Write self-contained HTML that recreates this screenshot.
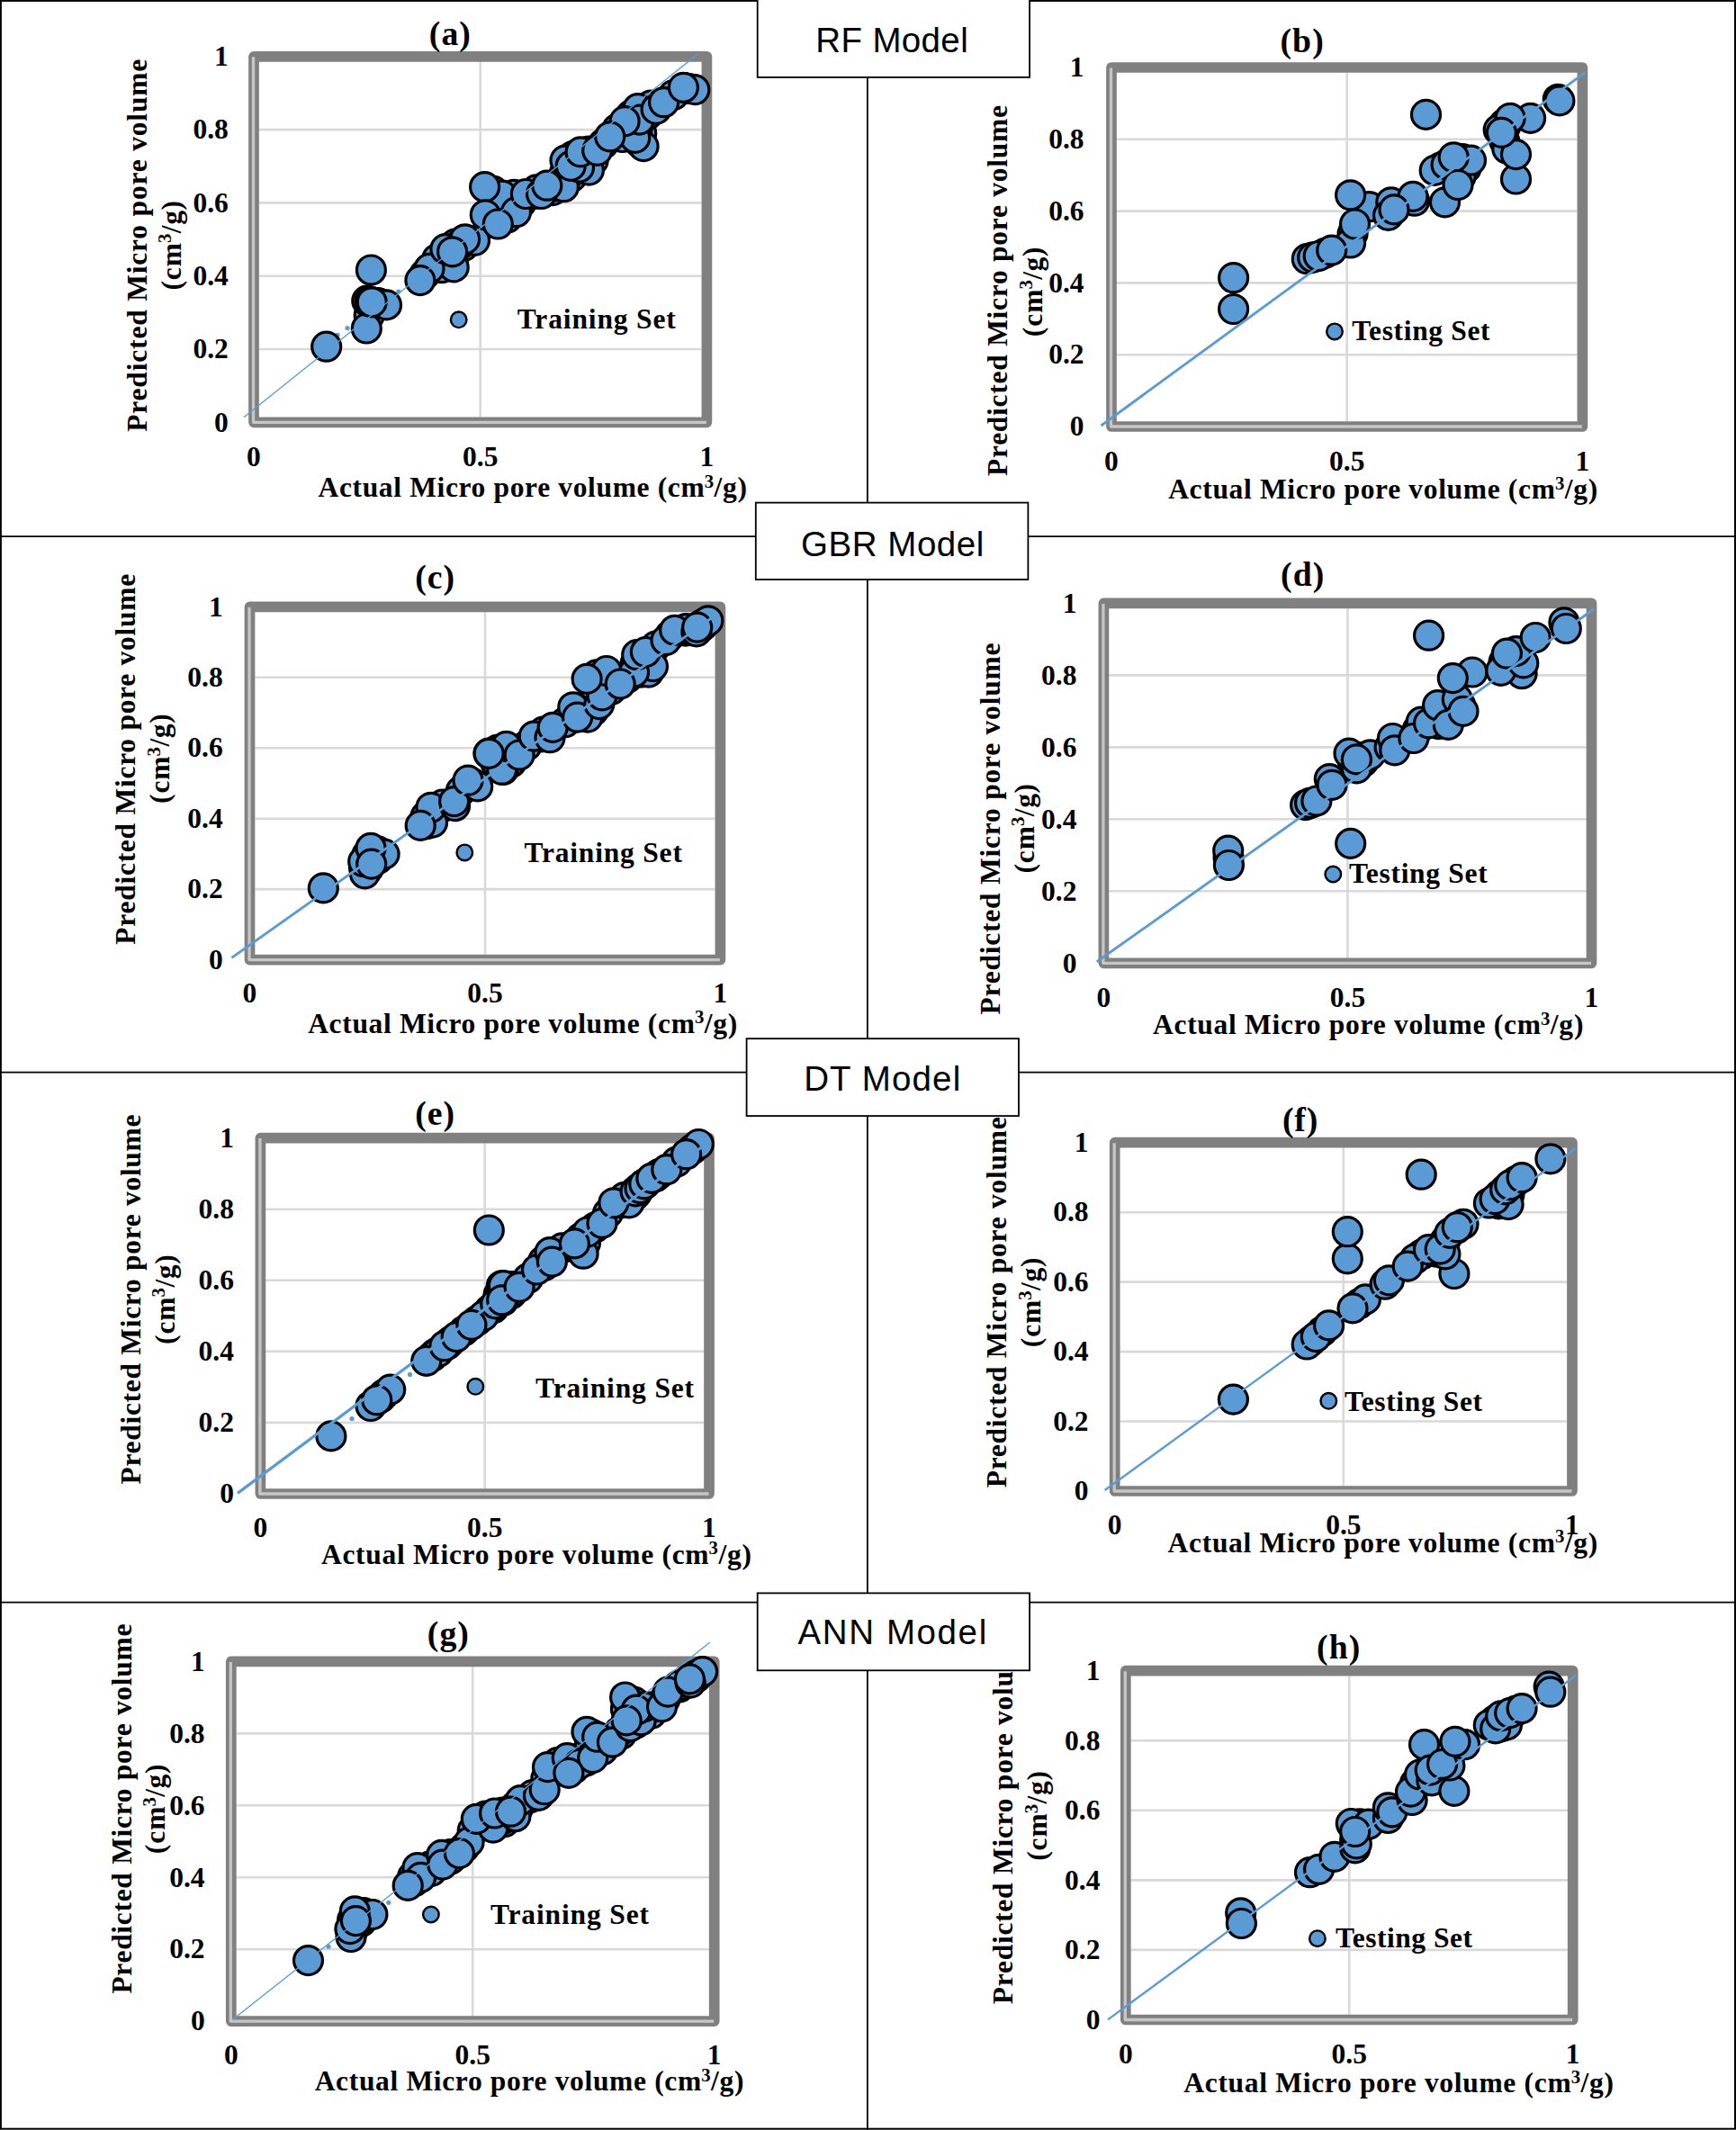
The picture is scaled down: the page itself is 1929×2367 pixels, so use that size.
<!DOCTYPE html>
<html><head><meta charset="utf-8"><title>Model predictions</title>
<style>
html,body{margin:0;padding:0;background:#fff}
svg{display:block}
.b{font-family:"Liberation Serif","DejaVu Serif",serif;font-weight:bold;fill:#000}
.s{font-family:"Liberation Sans","DejaVu Sans",sans-serif;fill:#000}
.g{stroke:#d9d9d9;stroke-width:2.6}
.ax{stroke:#c6c6c6;stroke-width:3.3;fill:none;stroke-linejoin:round}
.f{fill:none;stroke:#808080}
.pt circle{fill:#5b9bd5;stroke:#000;stroke-width:3.2}
.bx{fill:#fff;stroke:#000;stroke-width:1.8}
.ln{stroke:#000;stroke-width:1.8}
</style></head><body>
<svg width="1929" height="2367" viewBox="0 0 1929 2367">
<rect x="0" y="0" width="1929" height="2367" fill="#fff"/>
<line class="ln" x1="963.9" x2="963.9" y1="0" y2="2367"/>
<line class="ln" x1="0" x2="1929" y1="596.1" y2="596.1"/>
<line class="ln" x1="0" x2="1929" y1="1191.7" y2="1191.7"/>
<line class="ln" x1="0" x2="1929" y1="1780.6" y2="1780.6"/>
<g id="p_a">
<line class="g" x1="287.9" x2="779.5" y1="388.0" y2="388.0"/>
<line class="g" x1="287.9" x2="779.5" y1="306.7" y2="306.7"/>
<line class="g" x1="287.9" x2="779.5" y1="225.4" y2="225.4"/>
<line class="g" x1="287.9" x2="779.5" y1="144.1" y2="144.1"/>
<line class="g" x1="533.7" x2="533.7" y1="68.6" y2="463.4"/>
<rect class="f" x="282.0" y="62.8" width="503.4" height="406.5" stroke-width="11.7" stroke-linejoin="round"/>
<path class="ax" d="M281.5 63.3 V469.3 H784.9"/>
<circle cx="375.1" cy="372.3" r="2.6" fill="#5b9bd5"/>
<circle cx="386.0" cy="364.5" r="2.6" fill="#5b9bd5"/>
<circle cx="442.8" cy="324.1" r="2.6" fill="#5b9bd5"/>
<g class="pt">
<circle cx="410.2" cy="350.4" r="16.0"/>
<circle cx="418.6" cy="336.5" r="16.0"/>
<circle cx="420.2" cy="336.9" r="16.0"/>
<circle cx="421.4" cy="337.3" r="16.0"/>
<circle cx="490.6" cy="297.7" r="16.0"/>
<circle cx="499.5" cy="286.8" r="16.0"/>
<circle cx="503.4" cy="288.3" r="16.0"/>
<circle cx="471.9" cy="305.0" r="16.0"/>
<circle cx="485.9" cy="287.5" r="16.0"/>
<circle cx="505.7" cy="271.2" r="16.0"/>
<circle cx="515.1" cy="273.5" r="16.0"/>
<circle cx="509.6" cy="272.8" r="16.0"/>
<circle cx="548.3" cy="212.4" r="16.0"/>
<circle cx="548.7" cy="228.0" r="16.0"/>
<circle cx="565.8" cy="226.4" r="16.0"/>
<circle cx="571.2" cy="216.3" r="16.0"/>
<circle cx="546.3" cy="243.9" r="16.0"/>
<circle cx="563.4" cy="242.3" r="16.0"/>
<circle cx="579.0" cy="225.6" r="16.0"/>
<circle cx="593.0" cy="215.5" r="16.0"/>
<circle cx="596.1" cy="210.9" r="16.0"/>
<circle cx="614.0" cy="211.6" r="16.0"/>
<circle cx="617.1" cy="207.0" r="16.0"/>
<circle cx="635.0" cy="196.9" r="16.0"/>
<circle cx="627.2" cy="193.0" r="16.0"/>
<circle cx="630.3" cy="196.1" r="16.0"/>
<circle cx="641.2" cy="183.6" r="16.0"/>
<circle cx="644.3" cy="186.7" r="16.0"/>
<circle cx="649.8" cy="179.0" r="16.0"/>
<circle cx="659.1" cy="178.2" r="16.0"/>
<circle cx="635.8" cy="182.1" r="16.0"/>
<circle cx="644.3" cy="177.4" r="16.0"/>
<circle cx="653.6" cy="176.6" r="16.0"/>
<circle cx="636.5" cy="173.5" r="16.0"/>
<circle cx="639.6" cy="176.6" r="16.0"/>
<circle cx="654.4" cy="168.1" r="16.0"/>
<circle cx="670.7" cy="159.5" r="16.0"/>
<circle cx="710.4" cy="158.0" r="16.0"/>
<circle cx="712.7" cy="147.9" r="16.0"/>
<circle cx="708.1" cy="143.2" r="16.0"/>
<circle cx="699.9" cy="144.0" r="16.0"/>
<circle cx="691.7" cy="152.5" r="16.0"/>
<circle cx="709.6" cy="126.9" r="16.0"/>
<circle cx="701.5" cy="127.7" r="16.0"/>
<circle cx="719.0" cy="121.0" r="16.0"/>
<circle cx="723.2" cy="117.2" r="16.0"/>
<circle cx="702.2" cy="133.9" r="16.0"/>
<circle cx="719.7" cy="127.3" r="16.0"/>
<circle cx="685.9" cy="143.2" r="16.0"/>
<circle cx="748.5" cy="105.5" r="16.0"/>
<circle cx="765.6" cy="98.5" r="16.0"/>
<circle cx="362.7" cy="385.2" r="16.0"/>
<circle cx="407.3" cy="365.0" r="16.0"/>
<circle cx="429.5" cy="338.9" r="16.0"/>
<circle cx="407.8" cy="334.2" r="16.0"/>
<circle cx="410.9" cy="335.0" r="16.0"/>
<circle cx="413.2" cy="335.8" r="16.0"/>
<circle cx="412.4" cy="300.0" r="16.0"/>
<circle cx="504.2" cy="296.9" r="16.0"/>
<circle cx="477.0" cy="298.4" r="16.0"/>
<circle cx="466.9" cy="311.6" r="16.0"/>
<circle cx="494.9" cy="276.7" r="16.0"/>
<circle cx="527.5" cy="267.3" r="16.0"/>
<circle cx="516.6" cy="265.8" r="16.0"/>
<circle cx="502.6" cy="279.8" r="16.0"/>
<circle cx="558.0" cy="217.1" r="16.0"/>
<circle cx="538.6" cy="207.7" r="16.0"/>
<circle cx="539.3" cy="238.8" r="16.0"/>
<circle cx="573.5" cy="235.7" r="16.0"/>
<circle cx="553.3" cy="249.0" r="16.0"/>
<circle cx="584.4" cy="215.5" r="16.0"/>
<circle cx="601.5" cy="215.5" r="16.0"/>
<circle cx="626.4" cy="207.7" r="16.0"/>
<circle cx="607.8" cy="206.2" r="16.0"/>
<circle cx="654.4" cy="189.1" r="16.0"/>
<circle cx="643.5" cy="186.0" r="16.0"/>
<circle cx="628.0" cy="178.2" r="16.0"/>
<circle cx="634.2" cy="184.4" r="16.0"/>
<circle cx="645.1" cy="168.9" r="16.0"/>
<circle cx="663.7" cy="167.3" r="16.0"/>
<circle cx="715.1" cy="162.6" r="16.0"/>
<circle cx="705.7" cy="153.3" r="16.0"/>
<circle cx="708.8" cy="120.7" r="16.0"/>
<circle cx="710.4" cy="133.1" r="16.0"/>
<circle cx="694.1" cy="134.7" r="16.0"/>
<circle cx="677.7" cy="151.8" r="16.0"/>
<circle cx="729.1" cy="121.4" r="16.0"/>
<circle cx="737.6" cy="113.7" r="16.0"/>
<circle cx="771.8" cy="99.7" r="16.0"/>
<circle cx="759.4" cy="97.3" r="16.0"/>
</g>
<line x1="270.9" y1="463.7" x2="776.4" y2="59.3" stroke="#5b9bd5" stroke-width="1.4"/>
<circle cx="509.7" cy="355.3" r="8.8" fill="#5b9bd5" stroke="#000" stroke-width="2.4"/>
<text class="b" x="574.8" y="365.0" font-size="31.5" textLength="176.0" lengthAdjust="spacing">Training Set</text>
<text class="b" x="476.8" y="49.5" font-size="37.7" textLength="46.1" lengthAdjust="spacing">(a)</text>
<text class="b" x="238.1" y="479.5" font-size="31.5" textLength="15.8" lengthAdjust="spacing">0</text>
<text class="b" x="214.4" y="398.2" font-size="31.5" textLength="39.4" lengthAdjust="spacing">0.2</text>
<text class="b" x="214.4" y="316.9" font-size="31.5" textLength="39.4" lengthAdjust="spacing">0.4</text>
<text class="b" x="214.4" y="235.6" font-size="31.5" textLength="39.4" lengthAdjust="spacing">0.6</text>
<text class="b" x="214.4" y="154.3" font-size="31.5" textLength="39.4" lengthAdjust="spacing">0.8</text>
<text class="b" x="238.1" y="73.0" font-size="31.5" textLength="15.8" lengthAdjust="spacing">1</text>
<text class="b" x="274.1" y="518.4" font-size="31.5" textLength="15.8" lengthAdjust="spacing">0</text>
<text class="b" x="514.0" y="518.4" font-size="31.5" textLength="39.4" lengthAdjust="spacing">0.5</text>
<text class="b" x="777.5" y="518.4" font-size="31.5" textLength="15.8" lengthAdjust="spacing">1</text>
<g>
<text class="b" x="353.5" y="552.2" font-size="31.5" textLength="429.2" lengthAdjust="spacing">Actual Micro pore volume (cm</text>
<text class="b" x="782.7" y="541.8" font-size="20.8" textLength="10.8" lengthAdjust="spacing">3</text>
<text class="b" x="793.5" y="552.2" font-size="31.5" textLength="36.5" lengthAdjust="spacing">/g)</text>
</g>
<text class="b" x="163.3" y="479.7" font-size="31.5" textLength="414.0" lengthAdjust="spacing" transform="rotate(-90 163.3 479.7)">Predicted Micro pore volume</text>
<g transform="rotate(-90 200.8 322.6)">
<text class="b" x="200.8" y="322.6" font-size="31.5" textLength="52.6" lengthAdjust="spacing">(cm</text>
<text class="b" x="253.4" y="312.2" font-size="20.8" textLength="10.8" lengthAdjust="spacing">3</text>
<text class="b" x="264.2" y="322.6" font-size="31.5" textLength="36.3" lengthAdjust="spacing">/g)</text>
</g>
</g>
<g id="p_b">
<line class="g" x1="1240.8" x2="1752.6" y1="394.2" y2="394.2"/>
<line class="g" x1="1240.8" x2="1752.6" y1="314.4" y2="314.4"/>
<line class="g" x1="1240.8" x2="1752.6" y1="234.6" y2="234.6"/>
<line class="g" x1="1240.8" x2="1752.6" y1="154.8" y2="154.8"/>
<line class="g" x1="1496.7" x2="1496.7" y1="80.8" y2="468.1"/>
<rect class="f" x="1235.0" y="75.0" width="523.4" height="399.0" stroke-width="11.7" stroke-linejoin="round"/>
<path class="ax" d="M1234.5 75.5 V474.0 H1757.9"/>
<g class="pt">
<circle cx="1458.7" cy="286.1" r="16.0"/>
<circle cx="1472.4" cy="281.3" r="16.0"/>
<circle cx="1503.1" cy="259.5" r="16.0"/>
<circle cx="1544.2" cy="232.1" r="16.0"/>
<circle cx="1628.9" cy="186.9" r="16.0"/>
<circle cx="1615.2" cy="189.4" r="16.0"/>
<circle cx="1624.8" cy="176.5" r="16.0"/>
<circle cx="1600.6" cy="186.1" r="16.0"/>
<circle cx="1671.6" cy="156.3" r="16.0"/>
<circle cx="1671.6" cy="137.7" r="16.0"/>
<circle cx="1673.2" cy="139.4" r="16.0"/>
<circle cx="1370.6" cy="343.5" r="16.0"/>
<circle cx="1370.6" cy="308.7" r="16.0"/>
<circle cx="1452.3" cy="287.7" r="16.0"/>
<circle cx="1458.7" cy="286.1" r="16.0"/>
<circle cx="1465.2" cy="284.5" r="16.0"/>
<circle cx="1500.6" cy="270.0" r="16.0"/>
<circle cx="1479.7" cy="278.1" r="16.0"/>
<circle cx="1521.6" cy="229.7" r="16.0"/>
<circle cx="1500.6" cy="216.8" r="16.0"/>
<circle cx="1505.5" cy="249.0" r="16.0"/>
<circle cx="1545.8" cy="224.8" r="16.0"/>
<circle cx="1542.6" cy="239.4" r="16.0"/>
<circle cx="1571.6" cy="223.2" r="16.0"/>
<circle cx="1570.0" cy="218.4" r="16.0"/>
<circle cx="1549.0" cy="232.9" r="16.0"/>
<circle cx="1605.5" cy="224.8" r="16.0"/>
<circle cx="1623.2" cy="195.8" r="16.0"/>
<circle cx="1634.5" cy="178.1" r="16.0"/>
<circle cx="1594.2" cy="189.4" r="16.0"/>
<circle cx="1607.1" cy="182.9" r="16.0"/>
<circle cx="1615.2" cy="174.8" r="16.0"/>
<circle cx="1620.0" cy="205.5" r="16.0"/>
<circle cx="1584.5" cy="127.4" r="16.0"/>
<circle cx="1684.5" cy="199.0" r="16.0"/>
<circle cx="1674.8" cy="165.2" r="16.0"/>
<circle cx="1684.5" cy="171.6" r="16.0"/>
<circle cx="1665.2" cy="144.2" r="16.0"/>
<circle cx="1700.6" cy="131.3" r="16.0"/>
<circle cx="1678.1" cy="131.3" r="16.0"/>
<circle cx="1668.4" cy="147.4" r="16.0"/>
<circle cx="1731.3" cy="110.3" r="16.0"/>
<circle cx="1732.9" cy="111.9" r="16.0"/>
</g>
<line x1="1223.5" y1="473" x2="1761.3" y2="80.6" stroke="#5b9bd5" stroke-width="2.9"/>
<circle cx="1483" cy="368.4" r="8.8" fill="#5b9bd5" stroke="#000" stroke-width="2.4"/>
<text class="b" x="1502.3" y="378.0" font-size="31.5" textLength="153.2" lengthAdjust="spacing">Testing Set</text>
<text class="b" x="1422.4" y="58.0" font-size="37.7" textLength="48.3" lengthAdjust="spacing">(b)</text>
<text class="b" x="1188.8" y="484.2" font-size="31.5" textLength="15.8" lengthAdjust="spacing">0</text>
<text class="b" x="1165.2" y="404.4" font-size="31.5" textLength="39.4" lengthAdjust="spacing">0.2</text>
<text class="b" x="1165.2" y="324.6" font-size="31.5" textLength="39.4" lengthAdjust="spacing">0.4</text>
<text class="b" x="1165.2" y="244.8" font-size="31.5" textLength="39.4" lengthAdjust="spacing">0.6</text>
<text class="b" x="1165.2" y="165.0" font-size="31.5" textLength="39.4" lengthAdjust="spacing">0.8</text>
<text class="b" x="1188.8" y="85.2" font-size="31.5" textLength="15.8" lengthAdjust="spacing">1</text>
<text class="b" x="1227.1" y="523.0" font-size="31.5" textLength="15.8" lengthAdjust="spacing">0</text>
<text class="b" x="1477.0" y="523.0" font-size="31.5" textLength="39.4" lengthAdjust="spacing">0.5</text>
<text class="b" x="1750.5" y="523.0" font-size="31.5" textLength="15.8" lengthAdjust="spacing">1</text>
<g>
<text class="b" x="1298.2" y="554.0" font-size="31.5" textLength="429.7" lengthAdjust="spacing">Actual Micro pore volume (cm</text>
<text class="b" x="1727.9" y="543.6" font-size="20.8" textLength="10.8" lengthAdjust="spacing">3</text>
<text class="b" x="1738.7" y="554.0" font-size="31.5" textLength="36.5" lengthAdjust="spacing">/g)</text>
</g>
<text class="b" x="1119.4" y="529.0" font-size="31.5" textLength="412.0" lengthAdjust="spacing" transform="rotate(-90 1119.4 529.0)">Predicted Micro pore volume</text>
<g transform="rotate(-90 1157.6 374.2)">
<text class="b" x="1157.6" y="374.2" font-size="31.5" textLength="52.6" lengthAdjust="spacing">(cm</text>
<text class="b" x="1210.2" y="363.8" font-size="20.8" textLength="10.8" lengthAdjust="spacing">3</text>
<text class="b" x="1221.0" y="374.2" font-size="31.5" textLength="36.3" lengthAdjust="spacing">/g)</text>
</g>
</g>
<g id="p_c">
<line class="g" x1="283.4" x2="794.5" y1="988.1" y2="988.1"/>
<line class="g" x1="283.4" x2="794.5" y1="909.7" y2="909.7"/>
<line class="g" x1="283.4" x2="794.5" y1="831.2" y2="831.2"/>
<line class="g" x1="283.4" x2="794.5" y1="752.8" y2="752.8"/>
<line class="g" x1="539.0" x2="539.0" y1="680.1" y2="1060.8"/>
<rect class="f" x="277.5" y="674.3" width="522.9" height="392.3" stroke-width="11.7" stroke-linejoin="round"/>
<path class="ax" d="M277.0 674.8 V1066.6 H799.9"/>
<g class="pt">
<circle cx="404.5" cy="964.1" r="16.0"/>
<circle cx="408.7" cy="956.6" r="16.0"/>
<circle cx="409.0" cy="965.5" r="16.0"/>
<circle cx="415.4" cy="953.3" r="16.0"/>
<circle cx="407.9" cy="949.9" r="16.0"/>
<circle cx="419.6" cy="945.8" r="16.0"/>
<circle cx="419.9" cy="954.6" r="16.0"/>
<circle cx="412.4" cy="951.3" r="16.0"/>
<circle cx="479.7" cy="905.7" r="16.0"/>
<circle cx="473.9" cy="915.7" r="16.0"/>
<circle cx="473.0" cy="907.3" r="16.0"/>
<circle cx="492.2" cy="896.5" r="16.0"/>
<circle cx="491.7" cy="894.0" r="16.0"/>
<circle cx="512.3" cy="878.9" r="16.0"/>
<circle cx="525.3" cy="870.6" r="16.0"/>
<circle cx="551.0" cy="846.4" r="16.0"/>
<circle cx="560.8" cy="842.5" r="16.0"/>
<circle cx="551.1" cy="846.5" r="16.0"/>
<circle cx="568.1" cy="847.3" r="16.0"/>
<circle cx="550.4" cy="846.2" r="16.0"/>
<circle cx="552.8" cy="833.3" r="16.0"/>
<circle cx="560.2" cy="842.3" r="16.0"/>
<circle cx="550.5" cy="846.3" r="16.0"/>
<circle cx="567.4" cy="847.1" r="16.0"/>
<circle cx="552.9" cy="833.4" r="16.0"/>
<circle cx="569.8" cy="834.2" r="16.0"/>
<circle cx="585.2" cy="828.5" r="16.0"/>
<circle cx="602.1" cy="818.9" r="16.0"/>
<circle cx="603.7" cy="813.2" r="16.0"/>
<circle cx="627.9" cy="802.7" r="16.0"/>
<circle cx="644.8" cy="791.5" r="16.0"/>
<circle cx="659.4" cy="789.8" r="16.0"/>
<circle cx="661.0" cy="785.0" r="16.0"/>
<circle cx="639.2" cy="791.5" r="16.0"/>
<circle cx="651.3" cy="784.2" r="16.0"/>
<circle cx="653.7" cy="789.8" r="16.0"/>
<circle cx="671.5" cy="759.2" r="16.0"/>
<circle cx="679.1" cy="766.5" r="16.0"/>
<circle cx="660.6" cy="763.6" r="16.0"/>
<circle cx="681.5" cy="752.7" r="16.0"/>
<circle cx="663.0" cy="749.9" r="16.0"/>
<circle cx="712.6" cy="747.1" r="16.0"/>
<circle cx="714.2" cy="737.4" r="16.0"/>
<circle cx="719.0" cy="735.8" r="16.0"/>
<circle cx="715.0" cy="743.9" r="16.0"/>
<circle cx="716.6" cy="734.2" r="16.0"/>
<circle cx="721.5" cy="732.6" r="16.0"/>
<circle cx="696.9" cy="753.5" r="16.0"/>
<circle cx="706.1" cy="737.4" r="16.0"/>
<circle cx="711.0" cy="735.8" r="16.0"/>
<circle cx="728.7" cy="718.1" r="16.0"/>
<circle cx="744.8" cy="706.0" r="16.0"/>
<circle cx="761.8" cy="701.1" r="16.0"/>
<circle cx="762.2" cy="698.7" r="16.0"/>
<circle cx="780.3" cy="695.9" r="16.0"/>
<circle cx="780.7" cy="693.5" r="16.0"/>
<circle cx="359.3" cy="986.9" r="16.0"/>
<circle cx="405.4" cy="970.8" r="16.0"/>
<circle cx="403.7" cy="957.5" r="16.0"/>
<circle cx="427.1" cy="949.1" r="16.0"/>
<circle cx="412.0" cy="942.4" r="16.0"/>
<circle cx="412.7" cy="960.1" r="16.0"/>
<circle cx="480.5" cy="914.0" r="16.0"/>
<circle cx="478.9" cy="897.3" r="16.0"/>
<circle cx="467.2" cy="917.4" r="16.0"/>
<circle cx="505.6" cy="895.6" r="16.0"/>
<circle cx="504.6" cy="890.6" r="16.0"/>
<circle cx="530.7" cy="873.9" r="16.0"/>
<circle cx="520.0" cy="867.2" r="16.0"/>
<circle cx="559.1" cy="855.5" r="16.0"/>
<circle cx="543.0" cy="837.2" r="16.0"/>
<circle cx="557.7" cy="855.2" r="16.0"/>
<circle cx="562.6" cy="829.4" r="16.0"/>
<circle cx="543.2" cy="837.4" r="16.0"/>
<circle cx="577.1" cy="839.0" r="16.0"/>
<circle cx="593.2" cy="818.1" r="16.0"/>
<circle cx="611.0" cy="819.7" r="16.0"/>
<circle cx="614.2" cy="808.4" r="16.0"/>
<circle cx="652.9" cy="797.1" r="16.0"/>
<circle cx="636.8" cy="785.8" r="16.0"/>
<circle cx="641.6" cy="797.1" r="16.0"/>
<circle cx="665.8" cy="782.6" r="16.0"/>
<circle cx="669.0" cy="772.9" r="16.0"/>
<circle cx="673.9" cy="745.5" r="16.0"/>
<circle cx="720.6" cy="747.1" r="16.0"/>
<circle cx="725.5" cy="740.6" r="16.0"/>
<circle cx="704.5" cy="747.1" r="16.0"/>
<circle cx="689.2" cy="760.0" r="16.0"/>
<circle cx="652.1" cy="754.4" r="16.0"/>
<circle cx="707.7" cy="727.7" r="16.0"/>
<circle cx="717.4" cy="724.5" r="16.0"/>
<circle cx="740.0" cy="711.6" r="16.0"/>
<circle cx="749.7" cy="700.3" r="16.0"/>
<circle cx="773.9" cy="701.9" r="16.0"/>
<circle cx="786.8" cy="689.8" r="16.0"/>
<circle cx="774.7" cy="697.1" r="16.0"/>
</g>
<line x1="257.4" y1="1064.4" x2="796" y2="683" stroke="#5b9bd5" stroke-width="2.9"/>
<circle cx="516.3" cy="947.4" r="8.8" fill="#5b9bd5" stroke="#000" stroke-width="2.4"/>
<text class="b" x="582.4" y="957.5" font-size="31.5" textLength="175.5" lengthAdjust="spacing">Training Set</text>
<text class="b" x="461.2" y="654.0" font-size="37.7" textLength="43.9" lengthAdjust="spacing">(c)</text>
<text class="b" x="232.0" y="1076.8" font-size="31.5" textLength="15.8" lengthAdjust="spacing">0</text>
<text class="b" x="208.3" y="998.3" font-size="31.5" textLength="39.4" lengthAdjust="spacing">0.2</text>
<text class="b" x="208.3" y="919.9" font-size="31.5" textLength="39.4" lengthAdjust="spacing">0.4</text>
<text class="b" x="208.3" y="841.4" font-size="31.5" textLength="39.4" lengthAdjust="spacing">0.6</text>
<text class="b" x="208.3" y="763.0" font-size="31.5" textLength="39.4" lengthAdjust="spacing">0.8</text>
<text class="b" x="232.0" y="684.5" font-size="31.5" textLength="15.8" lengthAdjust="spacing">1</text>
<text class="b" x="269.6" y="1113.7" font-size="31.5" textLength="15.8" lengthAdjust="spacing">0</text>
<text class="b" x="519.3" y="1113.7" font-size="31.5" textLength="39.4" lengthAdjust="spacing">0.5</text>
<text class="b" x="792.5" y="1113.7" font-size="31.5" textLength="15.8" lengthAdjust="spacing">1</text>
<g>
<text class="b" x="342.2" y="1147.8" font-size="31.5" textLength="429.7" lengthAdjust="spacing">Actual Micro pore volume (cm</text>
<text class="b" x="771.9" y="1137.4" font-size="20.8" textLength="10.8" lengthAdjust="spacing">3</text>
<text class="b" x="782.7" y="1147.8" font-size="31.5" textLength="36.5" lengthAdjust="spacing">/g)</text>
</g>
<text class="b" x="150.5" y="1049.7" font-size="31.5" textLength="412.0" lengthAdjust="spacing" transform="rotate(-90 150.5 1049.7)">Predicted Micro pore volume</text>
<g transform="rotate(-90 188.3 893.0)">
<text class="b" x="188.3" y="893.0" font-size="31.5" textLength="52.6" lengthAdjust="spacing">(cm</text>
<text class="b" x="240.9" y="882.6" font-size="20.8" textLength="10.8" lengthAdjust="spacing">3</text>
<text class="b" x="251.7" y="893.0" font-size="31.5" textLength="36.3" lengthAdjust="spacing">/g)</text>
</g>
</g>
<g id="p_d">
<line class="g" x1="1232.2" x2="1762.7" y1="990.3" y2="990.3"/>
<line class="g" x1="1232.2" x2="1762.7" y1="910.3" y2="910.3"/>
<line class="g" x1="1232.2" x2="1762.7" y1="830.4" y2="830.4"/>
<line class="g" x1="1232.2" x2="1762.7" y1="750.4" y2="750.4"/>
<line class="g" x1="1497.5" x2="1497.5" y1="676.2" y2="1064.5"/>
<rect class="f" x="1226.4" y="670.4" width="542.1" height="399.9" stroke-width="11.7" stroke-linejoin="round"/>
<path class="ax" d="M1225.9 670.9 V1070.3 H1768.0"/>
<g class="pt">
<circle cx="1365.1" cy="953.3" r="16.0"/>
<circle cx="1456.8" cy="892.3" r="16.0"/>
<circle cx="1503.2" cy="845.5" r="16.0"/>
<circle cx="1514.9" cy="846.4" r="16.0"/>
<circle cx="1514.9" cy="841.3" r="16.0"/>
<circle cx="1548.6" cy="827.2" r="16.0"/>
<circle cx="1575.0" cy="811.3" r="16.0"/>
<circle cx="1598.4" cy="804.6" r="16.0"/>
<circle cx="1622.7" cy="783.7" r="16.0"/>
<circle cx="1671.1" cy="735.8" r="16.0"/>
<circle cx="1688.6" cy="730.3" r="16.0"/>
<circle cx="1683.6" cy="731.6" r="16.0"/>
<circle cx="1364.7" cy="945.1" r="16.0"/>
<circle cx="1365.4" cy="961.5" r="16.0"/>
<circle cx="1500.7" cy="937.4" r="16.0"/>
<circle cx="1587.6" cy="706.2" r="16.0"/>
<circle cx="1450.6" cy="894.6" r="16.0"/>
<circle cx="1455.6" cy="892.3" r="16.0"/>
<circle cx="1462.9" cy="890.0" r="16.0"/>
<circle cx="1477.3" cy="865.6" r="16.0"/>
<circle cx="1480.0" cy="872.3" r="16.0"/>
<circle cx="1499.0" cy="837.2" r="16.0"/>
<circle cx="1507.4" cy="853.9" r="16.0"/>
<circle cx="1522.4" cy="838.8" r="16.0"/>
<circle cx="1507.4" cy="843.9" r="16.0"/>
<circle cx="1544.1" cy="830.5" r="16.0"/>
<circle cx="1547.5" cy="820.5" r="16.0"/>
<circle cx="1549.8" cy="833.8" r="16.0"/>
<circle cx="1579.2" cy="802.1" r="16.0"/>
<circle cx="1570.9" cy="820.5" r="16.0"/>
<circle cx="1587.6" cy="803.8" r="16.0"/>
<circle cx="1597.6" cy="783.7" r="16.0"/>
<circle cx="1609.3" cy="805.4" r="16.0"/>
<circle cx="1619.3" cy="777.0" r="16.0"/>
<circle cx="1626.0" cy="790.4" r="16.0"/>
<circle cx="1636.0" cy="747.0" r="16.0"/>
<circle cx="1614.3" cy="753.6" r="16.0"/>
<circle cx="1691.1" cy="748.6" r="16.0"/>
<circle cx="1667.8" cy="745.3" r="16.0"/>
<circle cx="1692.8" cy="736.9" r="16.0"/>
<circle cx="1684.5" cy="723.6" r="16.0"/>
<circle cx="1674.4" cy="726.2" r="16.0"/>
<circle cx="1706.2" cy="708.5" r="16.0"/>
<circle cx="1737.9" cy="691.8" r="16.0"/>
<circle cx="1740.3" cy="698.5" r="16.0"/>
</g>
<line x1="1218.8" y1="1068.8" x2="1771.3" y2="676.8" stroke="#5b9bd5" stroke-width="2.9"/>
<circle cx="1481.3" cy="971.5" r="8.8" fill="#5b9bd5" stroke="#000" stroke-width="2.4"/>
<text class="b" x="1499.0" y="980.8" font-size="31.5" textLength="153.7" lengthAdjust="spacing">Testing Set</text>
<text class="b" x="1423.0" y="650.7" font-size="37.7" textLength="48.3" lengthAdjust="spacing">(d)</text>
<text class="b" x="1180.8" y="1080.5" font-size="31.5" textLength="15.8" lengthAdjust="spacing">0</text>
<text class="b" x="1157.1" y="1000.5" font-size="31.5" textLength="39.4" lengthAdjust="spacing">0.2</text>
<text class="b" x="1157.1" y="920.5" font-size="31.5" textLength="39.4" lengthAdjust="spacing">0.4</text>
<text class="b" x="1157.1" y="840.6" font-size="31.5" textLength="39.4" lengthAdjust="spacing">0.6</text>
<text class="b" x="1157.1" y="760.6" font-size="31.5" textLength="39.4" lengthAdjust="spacing">0.8</text>
<text class="b" x="1180.8" y="680.6" font-size="31.5" textLength="15.8" lengthAdjust="spacing">1</text>
<text class="b" x="1218.5" y="1118.7" font-size="31.5" textLength="15.8" lengthAdjust="spacing">0</text>
<text class="b" x="1477.8" y="1118.7" font-size="31.5" textLength="39.4" lengthAdjust="spacing">0.5</text>
<text class="b" x="1760.6" y="1118.7" font-size="31.5" textLength="15.8" lengthAdjust="spacing">1</text>
<g>
<text class="b" x="1281.0" y="1148.9" font-size="31.5" textLength="430.9" lengthAdjust="spacing">Actual Micro pore volume (cm</text>
<text class="b" x="1711.9" y="1138.5" font-size="20.8" textLength="10.9" lengthAdjust="spacing">3</text>
<text class="b" x="1722.8" y="1148.9" font-size="31.5" textLength="36.6" lengthAdjust="spacing">/g)</text>
</g>
<text class="b" x="1110.8" y="1127.5" font-size="31.5" textLength="413.0" lengthAdjust="spacing" transform="rotate(-90 1110.8 1127.5)">Predicted Micro pore volume</text>
<g transform="rotate(-90 1148.6 970.6)">
<text class="b" x="1148.6" y="970.6" font-size="31.5" textLength="52.6" lengthAdjust="spacing">(cm</text>
<text class="b" x="1201.2" y="960.2" font-size="20.8" textLength="10.8" lengthAdjust="spacing">3</text>
<text class="b" x="1212.0" y="970.6" font-size="31.5" textLength="36.3" lengthAdjust="spacing">/g)</text>
</g>
</g>
<g id="p_e">
<line class="g" x1="295.2" x2="782.1" y1="1580.9" y2="1580.9"/>
<line class="g" x1="295.2" x2="782.1" y1="1501.8" y2="1501.8"/>
<line class="g" x1="295.2" x2="782.1" y1="1422.8" y2="1422.8"/>
<line class="g" x1="295.2" x2="782.1" y1="1343.7" y2="1343.7"/>
<line class="g" x1="538.7" x2="538.7" y1="1270.4" y2="1654.2"/>
<rect class="f" x="289.4" y="1264.6" width="498.6" height="395.4" stroke-width="11.7" stroke-linejoin="round"/>
<path class="ax" d="M288.9 1265.1 V1660.0 H787.5"/>
<circle cx="391.0" cy="1576.5" r="2.6" fill="#5b9bd5"/>
<circle cx="455.5" cy="1527.4" r="2.6" fill="#5b9bd5"/>
<g class="pt">
<circle cx="422.9" cy="1553.3" r="16.0"/>
<circle cx="426.2" cy="1549.9" r="16.0"/>
<circle cx="480.5" cy="1507.3" r="16.0"/>
<circle cx="497.2" cy="1494.0" r="16.0"/>
<circle cx="483.9" cy="1504.0" r="16.0"/>
<circle cx="500.6" cy="1490.6" r="16.0"/>
<circle cx="515.6" cy="1478.9" r="16.0"/>
<circle cx="530.6" cy="1467.3" r="16.0"/>
<circle cx="544.0" cy="1455.6" r="16.0"/>
<circle cx="548.2" cy="1453.9" r="16.0"/>
<circle cx="547.5" cy="1453.5" r="16.0"/>
<circle cx="554.0" cy="1438.9" r="16.0"/>
<circle cx="555.0" cy="1438.8" r="16.0"/>
<circle cx="558.2" cy="1437.2" r="16.0"/>
<circle cx="557.6" cy="1436.8" r="16.0"/>
<circle cx="567.2" cy="1429.6" r="16.0"/>
<circle cx="559.2" cy="1437.1" r="16.0"/>
<circle cx="568.1" cy="1437.9" r="16.0"/>
<circle cx="558.5" cy="1436.8" r="16.0"/>
<circle cx="568.2" cy="1429.5" r="16.0"/>
<circle cx="567.4" cy="1437.6" r="16.0"/>
<circle cx="586.8" cy="1420.6" r="16.0"/>
<circle cx="603.7" cy="1401.3" r="16.0"/>
<circle cx="604.9" cy="1406.5" r="16.0"/>
<circle cx="624.7" cy="1386.8" r="16.0"/>
<circle cx="650.5" cy="1381.1" r="16.0"/>
<circle cx="643.2" cy="1387.6" r="16.0"/>
<circle cx="645.6" cy="1375.5" r="16.0"/>
<circle cx="661.0" cy="1364.2" r="16.0"/>
<circle cx="675.5" cy="1348.1" r="16.0"/>
<circle cx="690.4" cy="1336.8" r="16.0"/>
<circle cx="702.5" cy="1330.3" r="16.0"/>
<circle cx="704.9" cy="1328.7" r="16.0"/>
<circle cx="707.3" cy="1326.3" r="16.0"/>
<circle cx="694.0" cy="1330.3" r="16.0"/>
<circle cx="711.0" cy="1319.8" r="16.0"/>
<circle cx="715.0" cy="1316.6" r="16.0"/>
<circle cx="717.4" cy="1315.0" r="16.0"/>
<circle cx="728.3" cy="1307.7" r="16.0"/>
<circle cx="732.3" cy="1304.5" r="16.0"/>
<circle cx="751.7" cy="1291.2" r="16.0"/>
<circle cx="769.4" cy="1277.1" r="16.0"/>
<circle cx="367.9" cy="1595.9" r="16.0"/>
<circle cx="412.0" cy="1562.5" r="16.0"/>
<circle cx="433.7" cy="1544.1" r="16.0"/>
<circle cx="418.7" cy="1555.8" r="16.0"/>
<circle cx="487.2" cy="1502.3" r="16.0"/>
<circle cx="473.8" cy="1512.4" r="16.0"/>
<circle cx="493.9" cy="1495.7" r="16.0"/>
<circle cx="507.2" cy="1485.6" r="16.0"/>
<circle cx="537.3" cy="1462.2" r="16.0"/>
<circle cx="523.9" cy="1472.3" r="16.0"/>
<circle cx="550.7" cy="1448.9" r="16.0"/>
<circle cx="557.4" cy="1428.8" r="16.0"/>
<circle cx="559.0" cy="1445.5" r="16.0"/>
<circle cx="543.3" cy="1367.0" r="16.0"/>
<circle cx="559.4" cy="1428.7" r="16.0"/>
<circle cx="557.7" cy="1444.8" r="16.0"/>
<circle cx="577.1" cy="1430.3" r="16.0"/>
<circle cx="596.5" cy="1411.0" r="16.0"/>
<circle cx="611.0" cy="1391.6" r="16.0"/>
<circle cx="613.4" cy="1402.1" r="16.0"/>
<circle cx="648.1" cy="1393.2" r="16.0"/>
<circle cx="652.9" cy="1369.0" r="16.0"/>
<circle cx="638.4" cy="1381.9" r="16.0"/>
<circle cx="669.0" cy="1359.4" r="16.0"/>
<circle cx="698.9" cy="1336.8" r="16.0"/>
<circle cx="681.9" cy="1336.8" r="16.0"/>
<circle cx="706.1" cy="1323.9" r="16.0"/>
<circle cx="711.0" cy="1320.6" r="16.0"/>
<circle cx="715.8" cy="1315.8" r="16.0"/>
<circle cx="723.9" cy="1309.4" r="16.0"/>
<circle cx="740.8" cy="1299.7" r="16.0"/>
<circle cx="776.3" cy="1271.5" r="16.0"/>
<circle cx="762.6" cy="1282.7" r="16.0"/>
</g>
<line x1="264" y1="1659.4" x2="786" y2="1270" stroke="#5b9bd5" stroke-width="3.2"/>
<circle cx="528.3" cy="1540.8" r="8.8" fill="#5b9bd5" stroke="#000" stroke-width="2.4"/>
<text class="b" x="595.1" y="1552.5" font-size="31.5" textLength="176.0" lengthAdjust="spacing">Training Set</text>
<text class="b" x="461.2" y="1249.8" font-size="37.7" textLength="43.9" lengthAdjust="spacing">(e)</text>
<text class="b" x="244.2" y="1670.2" font-size="31.5" textLength="15.8" lengthAdjust="spacing">0</text>
<text class="b" x="220.6" y="1591.1" font-size="31.5" textLength="39.4" lengthAdjust="spacing">0.2</text>
<text class="b" x="220.6" y="1512.0" font-size="31.5" textLength="39.4" lengthAdjust="spacing">0.4</text>
<text class="b" x="220.6" y="1433.0" font-size="31.5" textLength="39.4" lengthAdjust="spacing">0.6</text>
<text class="b" x="220.6" y="1353.9" font-size="31.5" textLength="39.4" lengthAdjust="spacing">0.8</text>
<text class="b" x="244.2" y="1274.8" font-size="31.5" textLength="15.8" lengthAdjust="spacing">1</text>
<text class="b" x="281.5" y="1708.3" font-size="31.5" textLength="15.8" lengthAdjust="spacing">0</text>
<text class="b" x="519.0" y="1708.3" font-size="31.5" textLength="39.4" lengthAdjust="spacing">0.5</text>
<text class="b" x="780.1" y="1708.3" font-size="31.5" textLength="15.8" lengthAdjust="spacing">1</text>
<g>
<text class="b" x="357.0" y="1737.6" font-size="31.5" textLength="430.6" lengthAdjust="spacing">Actual Micro pore volume (cm</text>
<text class="b" x="787.6" y="1727.2" font-size="20.8" textLength="10.9" lengthAdjust="spacing">3</text>
<text class="b" x="798.4" y="1737.6" font-size="31.5" textLength="36.6" lengthAdjust="spacing">/g)</text>
</g>
<text class="b" x="155.9" y="1649.5" font-size="31.5" textLength="411.0" lengthAdjust="spacing" transform="rotate(-90 155.9 1649.5)">Predicted Micro pore volume</text>
<g transform="rotate(-90 193.7 1494.0)">
<text class="b" x="193.7" y="1494.0" font-size="31.5" textLength="52.6" lengthAdjust="spacing">(cm</text>
<text class="b" x="246.3" y="1483.6" font-size="20.8" textLength="10.8" lengthAdjust="spacing">3</text>
<text class="b" x="257.1" y="1494.0" font-size="31.5" textLength="36.3" lengthAdjust="spacing">/g)</text>
</g>
</g>
<g id="p_f">
<line class="g" x1="1244.5" x2="1741.2" y1="1579.5" y2="1579.5"/>
<line class="g" x1="1244.5" x2="1741.2" y1="1502.1" y2="1502.1"/>
<line class="g" x1="1244.5" x2="1741.2" y1="1424.6" y2="1424.6"/>
<line class="g" x1="1244.5" x2="1741.2" y1="1347.2" y2="1347.2"/>
<line class="g" x1="1492.8" x2="1492.8" y1="1275.5" y2="1651.2"/>
<rect class="f" x="1238.7" y="1269.7" width="508.3" height="387.3" stroke-width="11.7" stroke-linejoin="round"/>
<path class="ax" d="M1238.2 1270.2 V1657.0 H1746.5"/>
<g class="pt">
<circle cx="1457.2" cy="1489.8" r="16.0"/>
<circle cx="1469.4" cy="1479.3" r="16.0"/>
<circle cx="1510.2" cy="1448.9" r="16.0"/>
<circle cx="1580.0" cy="1393.8" r="16.0"/>
<circle cx="1596.7" cy="1391.2" r="16.0"/>
<circle cx="1593.9" cy="1388.4" r="16.0"/>
<circle cx="1605.6" cy="1379.2" r="16.0"/>
<circle cx="1618.5" cy="1365.4" r="16.0"/>
<circle cx="1665.2" cy="1337.8" r="16.0"/>
<circle cx="1668.6" cy="1335.6" r="16.0"/>
<circle cx="1674.4" cy="1330.3" r="16.0"/>
<circle cx="1676.9" cy="1327.8" r="16.0"/>
<circle cx="1666.9" cy="1327.3" r="16.0"/>
<circle cx="1684.4" cy="1312.7" r="16.0"/>
<circle cx="1370.4" cy="1555.1" r="16.0"/>
<circle cx="1452.2" cy="1494.0" r="16.0"/>
<circle cx="1462.3" cy="1485.6" r="16.0"/>
<circle cx="1476.6" cy="1472.9" r="16.0"/>
<circle cx="1517.4" cy="1443.9" r="16.0"/>
<circle cx="1503.0" cy="1453.9" r="16.0"/>
<circle cx="1539.1" cy="1427.2" r="16.0"/>
<circle cx="1543.4" cy="1422.8" r="16.0"/>
<circle cx="1572.5" cy="1398.8" r="16.0"/>
<circle cx="1564.2" cy="1407.1" r="16.0"/>
<circle cx="1497.3" cy="1398.8" r="16.0"/>
<circle cx="1497.3" cy="1368.7" r="16.0"/>
<circle cx="1579.2" cy="1305.2" r="16.0"/>
<circle cx="1615.9" cy="1415.5" r="16.0"/>
<circle cx="1587.5" cy="1388.7" r="16.0"/>
<circle cx="1605.9" cy="1393.8" r="16.0"/>
<circle cx="1600.2" cy="1388.1" r="16.0"/>
<circle cx="1626.0" cy="1360.3" r="16.0"/>
<circle cx="1610.9" cy="1370.4" r="16.0"/>
<circle cx="1619.3" cy="1363.7" r="16.0"/>
<circle cx="1654.4" cy="1337.0" r="16.0"/>
<circle cx="1676.1" cy="1338.6" r="16.0"/>
<circle cx="1661.1" cy="1332.6" r="16.0"/>
<circle cx="1672.7" cy="1321.9" r="16.0"/>
<circle cx="1677.8" cy="1316.9" r="16.0"/>
<circle cx="1691.1" cy="1308.6" r="16.0"/>
<circle cx="1722.9" cy="1287.8" r="16.0"/>
</g>
<line x1="1227.6" y1="1656" x2="1751.3" y2="1275.8" stroke="#5b9bd5" stroke-width="2.3"/>
<circle cx="1476.3" cy="1556.8" r="8.8" fill="#5b9bd5" stroke="#000" stroke-width="2.4"/>
<text class="b" x="1494.0" y="1567.5" font-size="31.5" textLength="153.0" lengthAdjust="spacing">Testing Set</text>
<text class="b" x="1424.9" y="1256.8" font-size="37.7" textLength="39.5" lengthAdjust="spacing">(f)</text>
<text class="b" x="1193.8" y="1667.2" font-size="31.5" textLength="15.8" lengthAdjust="spacing">0</text>
<text class="b" x="1170.2" y="1589.7" font-size="31.5" textLength="39.4" lengthAdjust="spacing">0.2</text>
<text class="b" x="1170.2" y="1512.3" font-size="31.5" textLength="39.4" lengthAdjust="spacing">0.4</text>
<text class="b" x="1170.2" y="1434.8" font-size="31.5" textLength="39.4" lengthAdjust="spacing">0.6</text>
<text class="b" x="1170.2" y="1357.4" font-size="31.5" textLength="39.4" lengthAdjust="spacing">0.8</text>
<text class="b" x="1193.8" y="1279.9" font-size="31.5" textLength="15.8" lengthAdjust="spacing">1</text>
<text class="b" x="1230.8" y="1704.8" font-size="31.5" textLength="15.8" lengthAdjust="spacing">0</text>
<text class="b" x="1473.2" y="1704.8" font-size="31.5" textLength="39.4" lengthAdjust="spacing">0.5</text>
<text class="b" x="1739.1" y="1704.8" font-size="31.5" textLength="15.8" lengthAdjust="spacing">1</text>
<g>
<text class="b" x="1297.6" y="1724.8" font-size="31.5" textLength="430.3" lengthAdjust="spacing">Actual Micro pore volume (cm</text>
<text class="b" x="1727.9" y="1714.4" font-size="20.8" textLength="10.9" lengthAdjust="spacing">3</text>
<text class="b" x="1738.7" y="1724.8" font-size="31.5" textLength="36.6" lengthAdjust="spacing">/g)</text>
</g>
<text class="b" x="1118.3" y="1653.3" font-size="31.5" textLength="412.0" lengthAdjust="spacing" transform="rotate(-90 1118.3 1653.3)">Predicted Micro pore volume</text>
<g transform="rotate(-90 1156.1 1497.3)">
<text class="b" x="1156.1" y="1497.3" font-size="31.5" textLength="52.6" lengthAdjust="spacing">(cm</text>
<text class="b" x="1208.7" y="1486.9" font-size="20.8" textLength="10.8" lengthAdjust="spacing">3</text>
<text class="b" x="1219.5" y="1497.3" font-size="31.5" textLength="36.3" lengthAdjust="spacing">/g)</text>
</g>
</g>
<g id="p_g">
<line class="g" x1="262.7" x2="787.9" y1="2166.2" y2="2166.2"/>
<line class="g" x1="262.7" x2="787.9" y1="2086.3" y2="2086.3"/>
<line class="g" x1="262.7" x2="787.9" y1="2006.3" y2="2006.3"/>
<line class="g" x1="262.7" x2="787.9" y1="1926.4" y2="1926.4"/>
<line class="g" x1="525.2" x2="525.2" y1="1852.2" y2="2240.3"/>
<rect class="f" x="256.8" y="1846.4" width="536.9" height="399.8" stroke-width="11.7" stroke-linejoin="round"/>
<path class="ax" d="M256.3 1846.9 V2246.2 H793.2"/>
<circle cx="365.0" cy="2163.2" r="2.6" fill="#5b9bd5"/>
<circle cx="431.8" cy="2114.3" r="2.6" fill="#5b9bd5"/>
<g class="pt">
<circle cx="392.1" cy="2138.2" r="16.0"/>
<circle cx="392.7" cy="2143.6" r="16.0"/>
<circle cx="401.4" cy="2135.5" r="16.0"/>
<circle cx="391.6" cy="2133.8" r="16.0"/>
<circle cx="404.1" cy="2125.7" r="16.0"/>
<circle cx="404.6" cy="2131.1" r="16.0"/>
<circle cx="458.6" cy="2085.5" r="16.0"/>
<circle cx="477.9" cy="2073.9" r="16.0"/>
<circle cx="460.4" cy="2090.9" r="16.0"/>
<circle cx="479.6" cy="2079.3" r="16.0"/>
<circle cx="500.5" cy="2060.5" r="16.0"/>
<circle cx="501.1" cy="2065.9" r="16.0"/>
<circle cx="515.7" cy="2053.4" r="16.0"/>
<circle cx="525.2" cy="2034.3" r="16.0"/>
<circle cx="538.6" cy="2026.2" r="16.0"/>
<circle cx="548.8" cy="2023.0" r="16.0"/>
<circle cx="560.4" cy="2024.8" r="16.0"/>
<circle cx="557.7" cy="2022.1" r="16.0"/>
<circle cx="539.5" cy="2018.2" r="16.0"/>
<circle cx="561.2" cy="2016.8" r="16.0"/>
<circle cx="558.6" cy="2014.1" r="16.0"/>
<circle cx="575.5" cy="2009.6" r="16.0"/>
<circle cx="572.9" cy="2007.0" r="16.0"/>
<circle cx="588.4" cy="1998.1" r="16.0"/>
<circle cx="591.7" cy="1994.7" r="16.0"/>
<circle cx="606.9" cy="1976.2" r="16.0"/>
<circle cx="619.4" cy="1958.6" r="16.0"/>
<circle cx="620.2" cy="1967.0" r="16.0"/>
<circle cx="636.9" cy="1957.0" r="16.0"/>
<circle cx="644.5" cy="1953.6" r="16.0"/>
<circle cx="631.1" cy="1962.0" r="16.0"/>
<circle cx="651.1" cy="1957.0" r="16.0"/>
<circle cx="637.8" cy="1965.3" r="16.0"/>
<circle cx="655.3" cy="1939.0" r="16.0"/>
<circle cx="661.2" cy="1941.9" r="16.0"/>
<circle cx="669.5" cy="1944.9" r="16.0"/>
<circle cx="657.8" cy="1927.3" r="16.0"/>
<circle cx="672.0" cy="1933.2" r="16.0"/>
<circle cx="690.4" cy="1927.3" r="16.0"/>
<circle cx="688.3" cy="1924.0" r="16.0"/>
<circle cx="706.3" cy="1915.2" r="16.0"/>
<circle cx="707.9" cy="1907.7" r="16.0"/>
<circle cx="703.8" cy="1909.4" r="16.0"/>
<circle cx="713.8" cy="1904.3" r="16.0"/>
<circle cx="709.6" cy="1906.0" r="16.0"/>
<circle cx="704.2" cy="1911.9" r="16.0"/>
<circle cx="723.8" cy="1904.3" r="16.0"/>
<circle cx="705.0" cy="1891.4" r="16.0"/>
<circle cx="705.9" cy="1904.3" r="16.0"/>
<circle cx="725.5" cy="1896.8" r="16.0"/>
<circle cx="700.8" cy="1893.1" r="16.0"/>
<circle cx="695.4" cy="1898.9" r="16.0"/>
<circle cx="701.7" cy="1906.0" r="16.0"/>
<circle cx="721.3" cy="1898.5" r="16.0"/>
<circle cx="738.8" cy="1888.5" r="16.0"/>
<circle cx="754.7" cy="1875.1" r="16.0"/>
<circle cx="754.3" cy="1873.0" r="16.0"/>
<circle cx="773.9" cy="1863.8" r="16.0"/>
<circle cx="773.5" cy="1861.7" r="16.0"/>
<circle cx="342.5" cy="2178.6" r="16.0"/>
<circle cx="390.0" cy="2152.5" r="16.0"/>
<circle cx="388.9" cy="2143.6" r="16.0"/>
<circle cx="413.9" cy="2127.5" r="16.0"/>
<circle cx="394.3" cy="2123.9" r="16.0"/>
<circle cx="395.4" cy="2134.6" r="16.0"/>
<circle cx="463.9" cy="2075.7" r="16.0"/>
<circle cx="467.5" cy="2086.4" r="16.0"/>
<circle cx="453.2" cy="2095.4" r="16.0"/>
<circle cx="490.7" cy="2061.4" r="16.0"/>
<circle cx="491.8" cy="2072.1" r="16.0"/>
<circle cx="521.1" cy="2047.1" r="16.0"/>
<circle cx="510.4" cy="2059.6" r="16.0"/>
<circle cx="547.9" cy="2031.1" r="16.0"/>
<circle cx="529.3" cy="2021.4" r="16.0"/>
<circle cx="549.6" cy="2015.0" r="16.0"/>
<circle cx="572.9" cy="2018.6" r="16.0"/>
<circle cx="578.2" cy="2000.7" r="16.0"/>
<circle cx="567.5" cy="2013.2" r="16.0"/>
<circle cx="598.5" cy="1995.4" r="16.0"/>
<circle cx="605.2" cy="1988.7" r="16.0"/>
<circle cx="608.5" cy="1963.6" r="16.0"/>
<circle cx="630.3" cy="1953.6" r="16.0"/>
<circle cx="643.6" cy="1960.3" r="16.0"/>
<circle cx="658.7" cy="1953.6" r="16.0"/>
<circle cx="631.9" cy="1970.3" r="16.0"/>
<circle cx="652.0" cy="1924.4" r="16.0"/>
<circle cx="663.7" cy="1930.2" r="16.0"/>
<circle cx="680.4" cy="1936.1" r="16.0"/>
<circle cx="700.4" cy="1918.5" r="16.0"/>
<circle cx="712.1" cy="1911.9" r="16.0"/>
<circle cx="715.5" cy="1896.8" r="16.0"/>
<circle cx="694.6" cy="1886.0" r="16.0"/>
<circle cx="707.1" cy="1900.2" r="16.0"/>
<circle cx="696.2" cy="1911.9" r="16.0"/>
<circle cx="735.5" cy="1896.8" r="16.0"/>
<circle cx="742.2" cy="1880.1" r="16.0"/>
<circle cx="780.6" cy="1857.6" r="16.0"/>
<circle cx="767.2" cy="1870.1" r="16.0"/>
<circle cx="766.4" cy="1865.9" r="16.0"/>
</g>
<line x1="258.6" y1="2244.3" x2="788.9" y2="1825" stroke="#5b9bd5" stroke-width="1.4"/>
<circle cx="478.9" cy="2127.5" r="8.8" fill="#5b9bd5" stroke="#000" stroke-width="2.4"/>
<text class="b" x="545.0" y="2138.2" font-size="31.5" textLength="176.0" lengthAdjust="spacing">Training Set</text>
<text class="b" x="474.8" y="1827.5" font-size="37.7" textLength="46.1" lengthAdjust="spacing">(g)</text>
<text class="b" x="211.9" y="2256.4" font-size="31.5" textLength="15.8" lengthAdjust="spacing">0</text>
<text class="b" x="188.2" y="2176.4" font-size="31.5" textLength="39.4" lengthAdjust="spacing">0.2</text>
<text class="b" x="188.2" y="2096.5" font-size="31.5" textLength="39.4" lengthAdjust="spacing">0.4</text>
<text class="b" x="188.2" y="2016.5" font-size="31.5" textLength="39.4" lengthAdjust="spacing">0.6</text>
<text class="b" x="188.2" y="1936.6" font-size="31.5" textLength="39.4" lengthAdjust="spacing">0.8</text>
<text class="b" x="211.9" y="1856.6" font-size="31.5" textLength="15.8" lengthAdjust="spacing">1</text>
<text class="b" x="248.9" y="2294.0" font-size="31.5" textLength="15.8" lengthAdjust="spacing">0</text>
<text class="b" x="505.6" y="2294.0" font-size="31.5" textLength="39.4" lengthAdjust="spacing">0.5</text>
<text class="b" x="785.8" y="2294.0" font-size="31.5" textLength="15.8" lengthAdjust="spacing">1</text>
<g>
<text class="b" x="349.7" y="2323.0" font-size="31.5" textLength="429.5" lengthAdjust="spacing">Actual Micro pore volume (cm</text>
<text class="b" x="779.2" y="2312.6" font-size="20.8" textLength="10.8" lengthAdjust="spacing">3</text>
<text class="b" x="790.0" y="2323.0" font-size="31.5" textLength="36.5" lengthAdjust="spacing">/g)</text>
</g>
<text class="b" x="145.7" y="2215.6" font-size="31.5" textLength="411.0" lengthAdjust="spacing" transform="rotate(-90 145.7 2215.6)">Predicted Micro pore volume</text>
<g transform="rotate(-90 183.5 2060.2)">
<text class="b" x="183.5" y="2060.2" font-size="31.5" textLength="52.6" lengthAdjust="spacing">(cm</text>
<text class="b" x="236.1" y="2049.8" font-size="20.8" textLength="10.8" lengthAdjust="spacing">3</text>
<text class="b" x="246.9" y="2060.2" font-size="31.5" textLength="36.3" lengthAdjust="spacing">/g)</text>
</g>
</g>
<g id="p_h">
<line class="g" x1="1256.6" x2="1741.9" y1="2166.9" y2="2166.9"/>
<line class="g" x1="1256.6" x2="1741.9" y1="2089.4" y2="2089.4"/>
<line class="g" x1="1256.6" x2="1741.9" y1="2011.8" y2="2011.8"/>
<line class="g" x1="1256.6" x2="1741.9" y1="1934.3" y2="1934.3"/>
<line class="g" x1="1499.2" x2="1499.2" y1="1862.5" y2="2238.7"/>
<rect class="f" x="1250.8" y="1856.7" width="496.9" height="387.8" stroke-width="11.7" stroke-linejoin="round"/>
<path class="ax" d="M1250.3 1857.2 V2244.5 H1747.2"/>
<g class="pt">
<circle cx="1505.7" cy="2044.7" r="16.0"/>
<circle cx="1506.5" cy="2042.2" r="16.0"/>
<circle cx="1511.0" cy="2026.9" r="16.0"/>
<circle cx="1513.2" cy="2031.4" r="16.0"/>
<circle cx="1572.5" cy="1981.6" r="16.0"/>
<circle cx="1584.2" cy="1975.4" r="16.0"/>
<circle cx="1583.3" cy="1969.6" r="16.0"/>
<circle cx="1596.7" cy="1969.6" r="16.0"/>
<circle cx="1595.9" cy="1963.7" r="16.0"/>
<circle cx="1664.4" cy="1916.9" r="16.0"/>
<circle cx="1661.0" cy="1911.9" r="16.0"/>
<circle cx="1668.0" cy="1918.9" r="16.0"/>
<circle cx="1671.1" cy="1911.9" r="16.0"/>
<circle cx="1676.1" cy="1910.3" r="16.0"/>
<circle cx="1664.7" cy="1913.9" r="16.0"/>
<circle cx="1684.4" cy="1901.1" r="16.0"/>
<circle cx="1378.7" cy="2125.8" r="16.0"/>
<circle cx="1379.4" cy="2137.5" r="16.0"/>
<circle cx="1455.5" cy="2080.7" r="16.0"/>
<circle cx="1465.6" cy="2077.3" r="16.0"/>
<circle cx="1482.9" cy="2063.3" r="16.0"/>
<circle cx="1505.7" cy="2053.9" r="16.0"/>
<circle cx="1507.3" cy="2048.9" r="16.0"/>
<circle cx="1501.3" cy="2026.5" r="16.0"/>
<circle cx="1520.7" cy="2027.2" r="16.0"/>
<circle cx="1505.7" cy="2035.5" r="16.0"/>
<circle cx="1542.4" cy="2020.5" r="16.0"/>
<circle cx="1542.4" cy="2008.8" r="16.0"/>
<circle cx="1546.8" cy="2013.8" r="16.0"/>
<circle cx="1569.1" cy="2000.5" r="16.0"/>
<circle cx="1567.5" cy="1991.1" r="16.0"/>
<circle cx="1577.5" cy="1972.1" r="16.0"/>
<circle cx="1590.9" cy="1978.8" r="16.0"/>
<circle cx="1615.9" cy="1990.4" r="16.0"/>
<circle cx="1582.5" cy="1938.7" r="16.0"/>
<circle cx="1589.2" cy="1967.1" r="16.0"/>
<circle cx="1610.9" cy="1962.0" r="16.0"/>
<circle cx="1602.6" cy="1960.4" r="16.0"/>
<circle cx="1627.6" cy="1938.7" r="16.0"/>
<circle cx="1616.9" cy="1935.3" r="16.0"/>
<circle cx="1654.3" cy="1916.9" r="16.0"/>
<circle cx="1674.4" cy="1916.9" r="16.0"/>
<circle cx="1661.7" cy="1920.9" r="16.0"/>
<circle cx="1667.7" cy="1906.9" r="16.0"/>
<circle cx="1677.7" cy="1903.6" r="16.0"/>
<circle cx="1691.1" cy="1898.6" r="16.0"/>
<circle cx="1721.2" cy="1874.2" r="16.0"/>
<circle cx="1722.8" cy="1880.2" r="16.0"/>
</g>
<line x1="1231" y1="2244.4" x2="1751.2" y2="1861.8" stroke="#5b9bd5" stroke-width="2.3"/>
<circle cx="1463.9" cy="2154.2" r="8.8" fill="#5b9bd5" stroke="#000" stroke-width="2.4"/>
<text class="b" x="1484.0" y="2163.5" font-size="31.5" textLength="152.0" lengthAdjust="spacing">Testing Set</text>
<text class="b" x="1463.1" y="1843.4" font-size="37.7" textLength="48.3" lengthAdjust="spacing">(h)</text>
<text class="b" x="1206.8" y="2254.7" font-size="31.5" textLength="15.8" lengthAdjust="spacing">0</text>
<text class="b" x="1183.1" y="2177.1" font-size="31.5" textLength="39.4" lengthAdjust="spacing">0.2</text>
<text class="b" x="1183.1" y="2099.6" font-size="31.5" textLength="39.4" lengthAdjust="spacing">0.4</text>
<text class="b" x="1183.1" y="2022.0" font-size="31.5" textLength="39.4" lengthAdjust="spacing">0.6</text>
<text class="b" x="1183.1" y="1944.5" font-size="31.5" textLength="39.4" lengthAdjust="spacing">0.8</text>
<text class="b" x="1206.8" y="1866.9" font-size="31.5" textLength="15.8" lengthAdjust="spacing">1</text>
<text class="b" x="1242.9" y="2292.7" font-size="31.5" textLength="15.8" lengthAdjust="spacing">0</text>
<text class="b" x="1479.6" y="2292.7" font-size="31.5" textLength="39.4" lengthAdjust="spacing">0.5</text>
<text class="b" x="1739.8" y="2292.7" font-size="31.5" textLength="15.8" lengthAdjust="spacing">1</text>
<g>
<text class="b" x="1315.3" y="2325.4" font-size="31.5" textLength="430.4" lengthAdjust="spacing">Actual Micro pore volume (cm</text>
<text class="b" x="1745.7" y="2315.0" font-size="20.8" textLength="10.9" lengthAdjust="spacing">3</text>
<text class="b" x="1756.5" y="2325.4" font-size="31.5" textLength="36.6" lengthAdjust="spacing">/g)</text>
</g>
<text class="b" x="1124.6" y="2227.2" font-size="31.5" textLength="412.0" lengthAdjust="spacing" transform="rotate(-90 1124.6 2227.2)">Predicted Micro pore volume</text>
<g transform="rotate(-90 1163.0 2067.8)">
<text class="b" x="1163.0" y="2067.8" font-size="31.5" textLength="52.6" lengthAdjust="spacing">(cm</text>
<text class="b" x="1215.6" y="2057.4" font-size="20.8" textLength="10.8" lengthAdjust="spacing">3</text>
<text class="b" x="1226.4" y="2067.8" font-size="31.5" textLength="36.3" lengthAdjust="spacing">/g)</text>
</g>
</g>
<rect x="0.9" y="0.9" width="1927.1" height="2364.8" fill="none" stroke="#000" stroke-width="2"/>
<rect class="bx" x="841.7" y="-2" width="302.4" height="87.9"/>
<text class="s" x="906.3" y="58" font-size="38.5" textLength="169.4" lengthAdjust="spacing">RF Model</text>
<rect class="bx" x="839.8" y="558.6" width="302.6" height="85.4"/>
<text class="s" x="890" y="617.7" font-size="38.5" textLength="203.3" lengthAdjust="spacing">GBR Model</text>
<rect class="bx" x="829.6" y="1154.2" width="302.4" height="85.9"/>
<text class="s" x="893.2" y="1211.8" font-size="38.5" textLength="174.0" lengthAdjust="spacing">DT Model</text>
<rect class="bx" x="841.7" y="1770.4" width="302.4" height="85.9"/>
<text class="s" x="886.5" y="1827.3" font-size="38.5" textLength="209.7" lengthAdjust="spacing">ANN Model</text>
</svg></body></html>
